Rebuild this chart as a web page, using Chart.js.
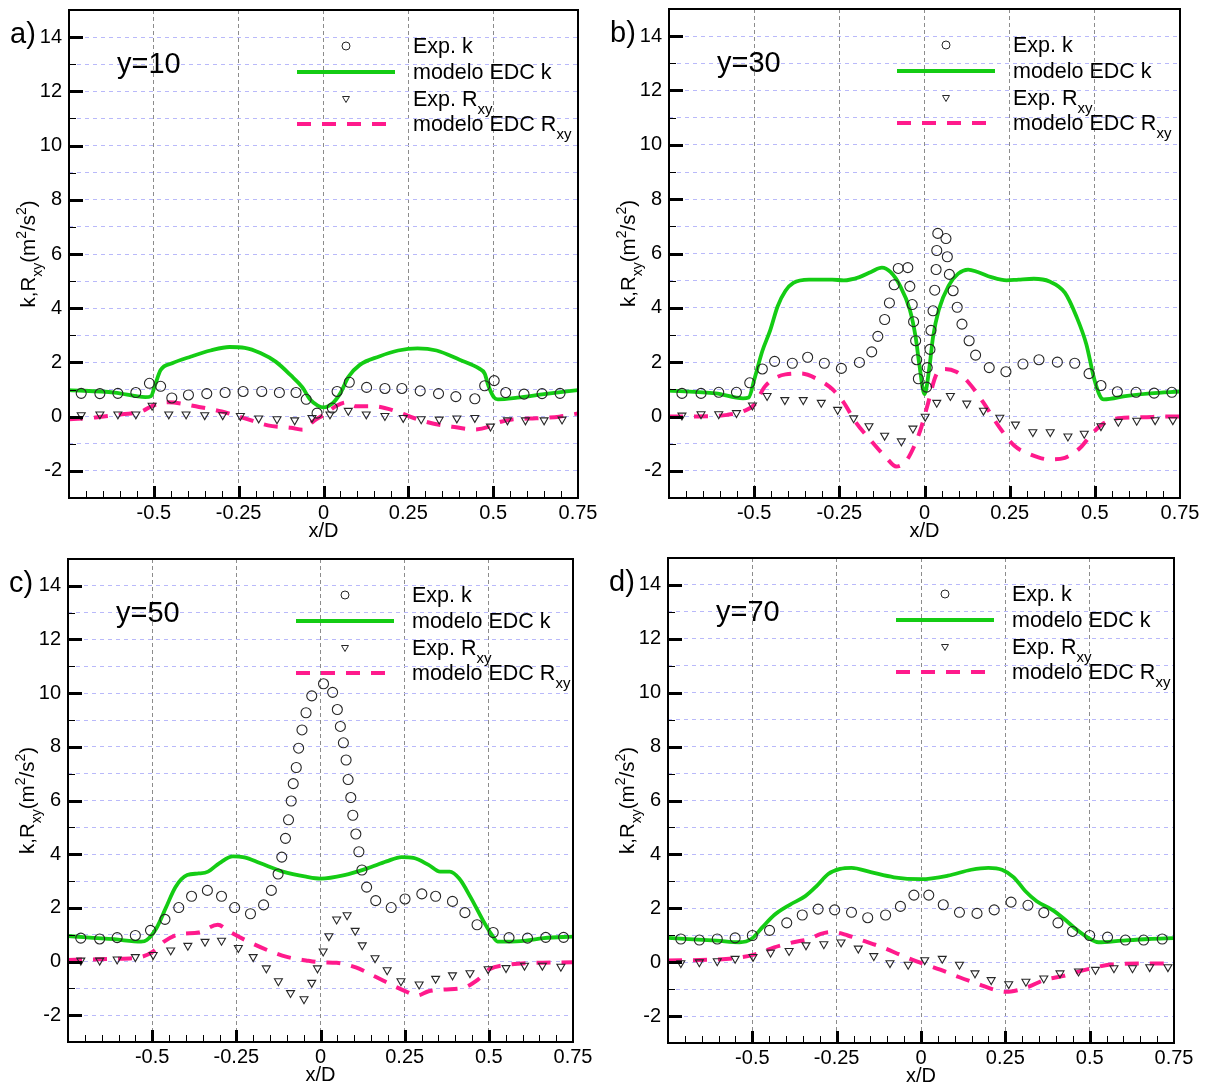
<!DOCTYPE html>
<html>
<head>
<meta charset="utf-8">
<script src="https://cdn.jsdelivr.net/npm/chart.js@4.4.1/dist/chart.umd.min.js"></script>
<style>
  body { margin: 0; background: #fff; width: 1207px; height: 1083px; position: relative; overflow: hidden; }
  canvas { position: absolute; }
</style>
</head>
<body>
<canvas id="pa"></canvas>
<canvas id="pb"></canvas>
<canvas id="pc"></canvas>
<canvas id="pd"></canvas>
<script>
// axes
const X_MIN = -0.75, X_MAX = 0.75, Y_MIN = -3, Y_MAX = 15;
const xTickValues = [-0.5, -0.25, 0, 0.25, 0.5, 0.75];
const yTickValues = [-2, -1, 0, 1, 2, 3, 4, 5, 6, 7, 8, 9, 10, 11, 12, 13, 14];
const xMinorStep = 0.05;

// ---- y=10 ----
const xExpK10 = [-0.714,-0.659,-0.606,-0.553,-0.513,-0.480,-0.447,-0.398,-0.344,-0.290,-0.237,-0.182,-0.130,-0.081,-0.051,-0.019,0.026,0.040,0.076,0.127,0.181,0.231,0.285,0.339,0.390,0.446,0.475,0.503,0.537,0.591,0.644,0.697];
const expK10  = [0.86,0.85,0.86,0.89,1.23,1.12,0.69,0.80,0.85,0.89,0.93,0.93,0.89,0.89,0.64,0.13,0.32,0.93,1.27,1.08,1.04,1.04,0.95,0.85,0.74,0.66,1.14,1.33,0.89,0.83,0.85,0.86];
const xExpR10 = [-0.714,-0.659,-0.606,-0.553,-0.505,-0.456,-0.405,-0.350,-0.297,-0.245,-0.191,-0.137,-0.085,-0.034,0.019,0.073,0.126,0.181,0.235,0.288,0.341,0.393,0.446,0.492,0.542,0.595,0.650,0.703];
const expR10  = [0.06,0.09,0.09,0.09,0.41,0.09,0.09,0.06,0.06,0.03,-0.06,-0.09,-0.13,-0.04,0.09,0.22,0.09,0.03,-0.04,-0.09,-0.10,-0.06,-0.04,-0.36,-0.13,-0.13,-0.13,-0.10];
const xModK10 = [-0.75,-0.616,-0.525,-0.508,-0.497,-0.480,-0.446,-0.390,-0.333,-0.277,-0.232,-0.186,-0.141,-0.096,-0.062,-0.040,-0.017,0,0.028,0.051,0.073,0.107,0.164,0.220,0.277,0.333,0.401,0.458,0.475,0.486,0.503,0.514,0.571,0.650,0.75];
const modK10  = [0.98,0.89,0.72,0.76,1.14,1.72,1.97,2.22,2.44,2.57,2.54,2.35,2.03,1.52,1.08,0.64,0.41,0.34,0.51,0.89,1.46,1.91,2.22,2.44,2.52,2.44,2.10,1.78,1.59,1.14,0.70,0.64,0.70,0.83,0.98];
const xModR10 = [-0.75,-0.672,-0.593,-0.537,-0.503,-0.458,-0.367,-0.300,-0.232,-0.164,-0.096,-0.062,-0.028,0,0.040,0.068,0.096,0.147,0.209,0.266,0.322,0.379,0.446,0.486,0.514,0.559,0.627,0.695,0.75];
const modR10  = [-0.10,-0.03,0.09,0.19,0.41,0.53,0.36,0.19,-0.06,-0.32,-0.41,-0.48,-0.15,0.06,0.41,0.53,0.38,0.38,0.22,-0.05,-0.25,-0.37,-0.47,-0.38,-0.22,-0.10,-0.06,0.0,0.12];

// ---- y=30 ----
const xExpK30 = [-0.712,-0.656,-0.604,-0.552,-0.513,-0.476,-0.440,-0.388,-0.343,-0.294,-0.244,-0.191,-0.155,-0.137,-0.117,-0.103,-0.089,-0.077,-0.049,-0.043,-0.036,-0.032,-0.026,-0.023,-0.018,0.006,0.008,0.016,0.019,0.025,0.030,0.034,0.036,0.039,0.063,0.067,0.073,0.084,0.096,0.110,0.131,0.150,0.190,0.239,0.289,0.336,0.390,0.441,0.483,0.518,0.566,0.621,0.674,0.726];
const expK30  = [0.85,0.85,0.89,0.89,1.24,1.75,2.03,1.96,2.18,1.96,1.77,1.99,2.38,2.95,3.57,4.18,4.85,5.45,5.48,4.79,4.12,3.49,2.79,2.09,1.39,1.08,1.80,2.47,3.17,3.89,4.65,5.41,6.11,6.74,6.55,5.88,5.23,4.63,4.02,3.40,2.79,2.26,1.80,1.65,1.93,2.09,2.00,1.96,1.58,1.14,0.91,0.89,0.86,0.89];
const xExpR30 = [-0.712,-0.656,-0.604,-0.552,-0.505,-0.462,-0.410,-0.356,-0.303,-0.255,-0.208,-0.163,-0.117,-0.068,-0.034,0.002,0.036,0.076,0.124,0.173,0.221,0.267,0.318,0.369,0.421,0.469,0.518,0.569,0.623,0.677,0.729];
const expR30  = [0.04,0.09,0.09,0.13,0.41,0.76,0.61,0.61,0.51,0.25,-0.06,-0.35,-0.70,-0.91,-0.44,0.00,0.51,0.76,0.48,0.22,-0.04,-0.29,-0.57,-0.57,-0.73,-0.63,-0.35,-0.19,-0.15,-0.13,-0.13];
const xModK30 = [-0.75,-0.613,-0.533,-0.516,-0.499,-0.476,-0.453,-0.431,-0.408,-0.385,-0.339,-0.271,-0.237,-0.191,-0.157,-0.125,-0.100,-0.072,-0.043,-0.026,-0.015,0,0.014,0.025,0.042,0.071,0.099,0.128,0.156,0.196,0.241,0.276,0.321,0.367,0.412,0.446,0.475,0.498,0.515,0.526,0.595,0.663,0.75];
const modK30  = [0.95,0.85,0.67,0.70,1.39,2.41,3.17,4.06,4.63,4.92,5.04,5.04,5.01,5.13,5.32,5.48,5.32,4.82,3.93,2.92,1.90,0.82,1.77,2.92,3.93,4.82,5.26,5.41,5.32,5.13,5.01,5.04,5.07,4.97,4.56,3.68,2.66,1.39,0.76,0.63,0.76,0.85,0.92];
const xModR30 = [-0.75,-0.670,-0.579,-0.533,-0.499,-0.470,-0.442,-0.408,-0.362,-0.317,-0.271,-0.237,-0.203,-0.157,-0.112,-0.083,-0.055,-0.032,-0.009,0.008,0.036,0.059,0.093,0.128,0.173,0.219,0.264,0.310,0.367,0.412,0.458,0.492,0.526,0.572,0.640,0.708,0.75];
const modR30  = [0,0,0.06,0.19,0.44,1.08,1.39,1.55,1.58,1.39,1.01,0.51,-0.19,-0.89,-1.52,-1.84,-1.65,-1.14,-0.38,0.38,1.58,1.75,1.65,1.27,0.51,-0.38,-1.08,-1.39,-1.58,-1.52,-1.14,-0.63,-0.25,-0.06,-0.03,0,0];

// ---- y=50 ----
const xExpK50 = [-0.712,-0.656,-0.604,-0.550,-0.505,-0.462,-0.421,-0.383,-0.336,-0.294,-0.255,-0.208,-0.169,-0.146,-0.126,-0.115,-0.104,-0.095,-0.087,-0.081,-0.072,-0.065,-0.055,-0.043,-0.026,0.009,0.036,0.050,0.059,0.068,0.076,0.082,0.090,0.096,0.105,0.114,0.123,0.137,0.164,0.210,0.251,0.301,0.342,0.392,0.429,0.465,0.513,0.560,0.615,0.669,0.722];
const expK50  = [0.87,0.84,0.89,0.97,1.16,1.57,2.01,2.43,2.65,2.43,2.01,1.78,2.11,2.65,3.26,3.89,4.59,5.28,5.98,6.63,7.23,7.95,8.63,9.27,9.90,10.35,10.03,9.39,8.76,8.15,7.51,6.78,6.11,5.45,4.75,4.09,3.41,2.77,2.27,2.01,2.33,2.52,2.43,2.24,1.82,1.37,1.08,0.89,0.87,0.90,0.90];
const xExpR50 = [-0.712,-0.656,-0.604,-0.550,-0.497,-0.445,-0.394,-0.343,-0.294,-0.244,-0.200,-0.161,-0.125,-0.089,-0.049,-0.026,-0.009,0.008,0.025,0.048,0.079,0.103,0.124,0.162,0.198,0.239,0.293,0.342,0.392,0.444,0.498,0.551,0.606,0.659,0.714];
const expR50  = [0.04,0.04,0.08,0.17,0.25,0.42,0.59,0.74,0.78,0.51,0.17,-0.25,-0.73,-1.17,-1.40,-0.79,-0.25,0.38,0.95,1.57,1.73,1.15,0.61,0.13,-0.32,-0.73,-0.85,-0.64,-0.51,-0.43,-0.28,-0.24,-0.15,-0.15,-0.19];
const xModK50 = [-0.75,-0.613,-0.533,-0.516,-0.487,-0.459,-0.431,-0.396,-0.362,-0.334,-0.300,-0.260,-0.226,-0.180,-0.112,-0.043,0,0.071,0.139,0.196,0.241,0.276,0.321,0.355,0.384,0.412,0.446,0.481,0.509,0.526,0.595,0.663,0.75];
const modK50  = [0.95,0.83,0.74,0.80,1.25,2.01,2.77,3.22,3.28,3.35,3.67,3.92,3.88,3.67,3.35,3.16,3.09,3.22,3.47,3.73,3.89,3.86,3.60,3.35,3.35,3.09,2.39,1.57,0.99,0.74,0.76,0.87,0.93];
const xModR50 = [-0.75,-0.613,-0.533,-0.499,-0.465,-0.419,-0.362,-0.305,-0.271,-0.214,-0.157,-0.100,-0.043,0,0.048,0.105,0.162,0.219,0.253,0.287,0.321,0.367,0.424,0.469,0.503,0.549,0.640,0.75];
const modR50  = [0.06,0.10,0.17,0.36,0.74,1.02,1.08,1.37,1.12,0.74,0.42,0.17,0.04,-0.03,-0.05,-0.22,-0.56,-0.92,-1.11,-1.27,-1.11,-1.04,-0.98,-0.66,-0.28,-0.13,-0.05,-0.03];

// ---- y=70 ----
const xExpK70 = [-0.712,-0.657,-0.604,-0.551,-0.500,-0.449,-0.398,-0.352,-0.305,-0.256,-0.206,-0.158,-0.105,-0.061,-0.021,0.023,0.066,0.114,0.166,0.217,0.267,0.317,0.364,0.406,0.449,0.500,0.553,0.606,0.660,0.715];
const expK70  = [0.86,0.82,0.86,0.90,0.99,1.18,1.46,1.75,1.97,1.94,1.85,1.65,1.75,2.07,2.49,2.49,2.13,1.85,1.81,1.94,2.23,2.11,1.84,1.46,1.14,0.99,0.93,0.82,0.82,0.86];
const xExpR70 = [-0.712,-0.657,-0.604,-0.551,-0.498,-0.446,-0.391,-0.341,-0.288,-0.237,-0.186,-0.140,-0.092,-0.038,0.011,0.063,0.114,0.160,0.208,0.260,0.311,0.364,0.412,0.467,0.517,0.572,0.627,0.678,0.732];
const expR70  = [-0.03,0,0.04,0.13,0.20,0.36,0.42,0.63,0.67,0.74,0.51,0.23,-0.03,-0.09,0.08,0.13,-0.09,-0.41,-0.66,-0.81,-0.72,-0.60,-0.41,-0.34,-0.28,-0.22,-0.22,-0.18,-0.18];
const xModK70 = [-0.75,-0.606,-0.538,-0.503,-0.469,-0.435,-0.389,-0.343,-0.309,-0.275,-0.240,-0.206,-0.149,-0.080,0,0.080,0.149,0.200,0.240,0.275,0.309,0.343,0.389,0.423,0.458,0.492,0.526,0.595,0.675,0.75];
const modK70  = [0.90,0.80,0.74,0.86,1.31,1.75,2.13,2.45,2.83,3.27,3.46,3.50,3.34,3.15,3.08,3.21,3.43,3.50,3.43,3.15,2.64,2.26,1.94,1.62,1.24,0.93,0.74,0.80,0.86,0.89];
const xModR70 = [-0.75,-0.606,-0.538,-0.492,-0.435,-0.378,-0.332,-0.297,-0.263,-0.217,-0.172,-0.114,-0.057,0,0.057,0.114,0.172,0.217,0.252,0.286,0.320,0.366,0.423,0.469,0.509,0.561,0.652,0.75];
const modR70  = [0.06,0.10,0.17,0.29,0.55,0.74,0.86,1.05,1.12,0.99,0.80,0.55,0.25,-0.03,-0.28,-0.56,-0.82,-1.02,-1.10,-1.04,-0.91,-0.66,-0.51,-0.34,-0.22,-0.09,-0.05,-0.05];

const FONT = "'Liberation Sans', Arial, sans-serif";
const GREEN = '#14cc14';
const PINK = '#ff1a8c';
const MARK = '#262626';
const HGRID = 'rgb(185,185,250)';
const VGRID = 'rgb(140,140,140)';
const PINK_DASH = [14, 11];

const pts = (xs, ys) => xs.map((x, i) => ({ x: x, y: ys[i] }));

// draw text made of normal / sub (1) / sup (2) pieces, starting at x on baseline y
function richText(ctx, parts, x, y, size, small, draw) {
    let cx = x;
    for (const [t, k] of parts) {
        ctx.font = (k ? small : size) + 'px ' + FONT;
        if (draw) ctx.fillText(t, cx, y + (k === 1 ? Math.round(small * 0.5) : k === 2 ? -Math.round(size * 0.45) : 0));
        cx += ctx.measureText(t).width;
    }
    return cx - x;
}

const decor = {
    id: 'decor',
    afterDatasetsDraw(chart, args, opts) {
        const { ctx, chartArea: a, scales: { x, y } } = chart;
        ctx.save();
        ctx.strokeStyle = '#000';
        ctx.fillStyle = '#000';

        // tick marks inside the frame
        for (let v = X_MIN + xMinorStep; v < X_MAX - 1e-6; v += xMinorStep) {
            const major = Math.abs(v / 0.25 - Math.round(v / 0.25)) < 1e-6;
            const px = Math.round(x.getPixelForValue(v)) + 0.5;
            ctx.lineWidth = major ? 3 : 1;
            ctx.beginPath();
            ctx.moveTo(px, a.bottom);
            ctx.lineTo(px, a.bottom - (major ? 12 : 7));
            ctx.stroke();
        }
        for (const v of yTickValues) {
            const major = v % 2 === 0;
            const py = Math.round(y.getPixelForValue(v)) + 0.5;
            ctx.lineWidth = major ? 3 : 1;
            ctx.beginPath();
            ctx.moveTo(a.left, py);
            ctx.lineTo(a.left + (major ? 14 : 7), py);
            ctx.stroke();
        }
        ctx.lineWidth = 2;
        ctx.strokeRect(a.left, a.top, a.right - a.left, a.bottom - a.top);

        // panel letter and station
        ctx.textBaseline = 'alphabetic';
        ctx.textAlign = 'left';
        ctx.font = '29px ' + FONT;
        ctx.fillText(opts.tag, a.left - 59, a.top + 33);
        ctx.fillText(opts.station, a.left + 48, a.top + 63);

        // x title
        ctx.font = '20px ' + FONT;
        ctx.textAlign = 'center';
        ctx.fillText('x/D', (a.left + a.right) / 2, a.bottom + 39);
        ctx.textAlign = 'left';

        // y title (rotated, with sub/superscripts)
        const yTitle = [['k,R', 0], ['xy', 1], ['(m', 0], ['2', 2], ['/s', 0], ['2', 2], [')', 0]];
        ctx.save();
        ctx.translate(a.left - 34, (a.top + a.bottom) / 2);
        ctx.rotate(-Math.PI / 2);
        const w = richText(ctx, yTitle, 0, 0, 20.5, 14, false);
        richText(ctx, yTitle, -w / 2, 0, 20.5, 14, true);
        ctx.restore();

        // legend
        const sx = a.left + 277, tx = a.left + 344;
        const rows = [a.top + 36, a.top + 62, a.top + 88.5, a.top + 114];
        ctx.strokeStyle = MARK;
        ctx.lineWidth = 1;
        ctx.beginPath();
        ctx.arc(sx, rows[0], 4, 0, Math.PI * 2);
        ctx.stroke();
        ctx.beginPath();
        const r = 4;
        ctx.moveTo(sx - r * 0.87, rows[2] - r * 0.5);
        ctx.lineTo(sx + r * 0.87, rows[2] - r * 0.5);
        ctx.lineTo(sx, rows[2] + r);
        ctx.closePath();
        ctx.stroke();
        ctx.lineWidth = 4;
        ctx.strokeStyle = GREEN;
        ctx.beginPath();
        ctx.moveTo(sx - 49, rows[1]);
        ctx.lineTo(sx + 49, rows[1]);
        ctx.stroke();
        ctx.strokeStyle = PINK;
        ctx.setLineDash(PINK_DASH);
        ctx.beginPath();
        ctx.moveTo(sx - 49, rows[3]);
        ctx.lineTo(sx + 49, rows[3]);
        ctx.stroke();
        ctx.setLineDash([]);

        ctx.fillStyle = '#000';
        richText(ctx, [['Exp. k', 0]], tx, rows[0] + 7, 21.5, 15, true);
        richText(ctx, [['modelo EDC k', 0]], tx, rows[1] + 7, 21.5, 15, true);
        richText(ctx, [['Exp. R', 0], ['xy', 1]], tx, rows[2] + 7, 21.5, 15, true);
        richText(ctx, [['modelo EDC R', 0], ['xy', 1]], tx, rows[3] + 7, 21.5, 15, true);
        ctx.restore();
    }
};

function makePanel(id, geo, tag, station, expKx, expK, expRx, expR, modKx, modK, modRx, modR) {
    const cv = document.getElementById(id);
    cv.width = geo.w; cv.height = geo.h;
    cv.style.left = geo.cx + 'px'; cv.style.top = geo.cy + 'px';
    cv.style.width = geo.w + 'px'; cv.style.height = geo.h + 'px';
    return new Chart(cv.getContext('2d'), {
        type: 'scatter',
        data: {
            datasets: [
                { label: 'Exp. k', data: pts(expKx, expK), pointStyle: 'circle', pointRadius: 5,
                  borderColor: MARK, backgroundColor: 'rgba(0,0,0,0)', pointBorderWidth: 1.1 },
                { label: 'Exp. Rxy', data: pts(expRx, expR), pointStyle: 'triangle', pointRotation: 180, pointRadius: 4.6,
                  borderColor: MARK, backgroundColor: 'rgba(0,0,0,0)', pointBorderWidth: 1.1 },
                { label: 'modelo EDC k', data: pts(modKx, modK), showLine: true, pointRadius: 0,
                  borderColor: GREEN, borderWidth: 3.8, cubicInterpolationMode: 'monotone' },
                { label: 'modelo EDC Rxy', data: pts(modRx, modR), showLine: true, pointRadius: 0,
                  borderColor: PINK, borderWidth: 4, borderDash: PINK_DASH, cubicInterpolationMode: 'monotone' }
            ]
        },
        options: {
            responsive: false,
            maintainAspectRatio: false,
            animation: false,
            devicePixelRatio: 1,
            layout: { padding: { left: 0, top: geo.top, right: geo.w - geo.right, bottom: 0 } },
            plugins: {
                legend: { display: false },
                tooltip: { enabled: false },
                decor: { tag: tag, station: station }
            },
            scales: {
                x: {
                    type: 'linear', min: X_MIN, max: X_MAX,
                    afterBuildTicks: s => { s.ticks = xTickValues.map(v => ({ value: v })); },
                    afterFit: s => { s.height = geo.h - geo.bottom; s.paddingLeft = 0; s.paddingRight = 0; },
                    ticks: { callback: v => String(v), color: '#000', font: { family: FONT, size: 20 },
                             padding: 3, maxRotation: 0, autoSkip: false },
                    grid: { color: c => (c.tick && Math.abs(c.tick.value) < 0.7) ? VGRID : 'rgba(0,0,0,0)',
                            drawTicks: false, lineWidth: 1 },
                    border: { display: false, dash: [4, 3] }
                },
                y: {
                    type: 'linear', min: Y_MIN, max: Y_MAX,
                    afterBuildTicks: s => { s.ticks = yTickValues.map(v => ({ value: v })); },
                    afterFit: s => { s.width = geo.left; s.paddingTop = 0; s.paddingBottom = 0; },
                    ticks: { callback: v => (v % 2 === 0 ? String(v) : ''), color: '#000',
                             font: { family: FONT, size: 20 }, padding: 7, autoSkip: false },
                    grid: { color: HGRID, drawTicks: false, lineWidth: 1 },
                    border: { display: false, dash: [4, 4] }
                }
            }
        },
        plugins: [decor]
    });
}

makePanel('pa', { cx: 0, cy: 0, w: 600, h: 545, left: 69, right: 578, top: 10, bottom: 498 }, 'a)', 'y=10',
          xExpK10, expK10, xExpR10, expR10, xModK10, modK10, xModR10, modR10);
makePanel('pb', { cx: 600, cy: 0, w: 607, h: 545, left: 69, right: 580, top: 9, bottom: 498 }, 'b)', 'y=30',
          xExpK30, expK30, xExpR30, expR30, xModK30, modK30, xModR30, modR30);
makePanel('pc', { cx: 0, cy: 545, w: 600, h: 538, left: 68, right: 573, top: 14, bottom: 497 }, 'c)', 'y=50',
          xExpK50, expK50, xExpR50, expR50, xModK50, modK50, xModR50, modR50);
makePanel('pd', { cx: 600, cy: 545, w: 607, h: 538, left: 68, right: 574, top: 13, bottom: 498 }, 'd)', 'y=70',
          xExpK70, expK70, xExpR70, expR70, xModK70, modK70, xModR70, modR70);
</script>
</body>
</html>
